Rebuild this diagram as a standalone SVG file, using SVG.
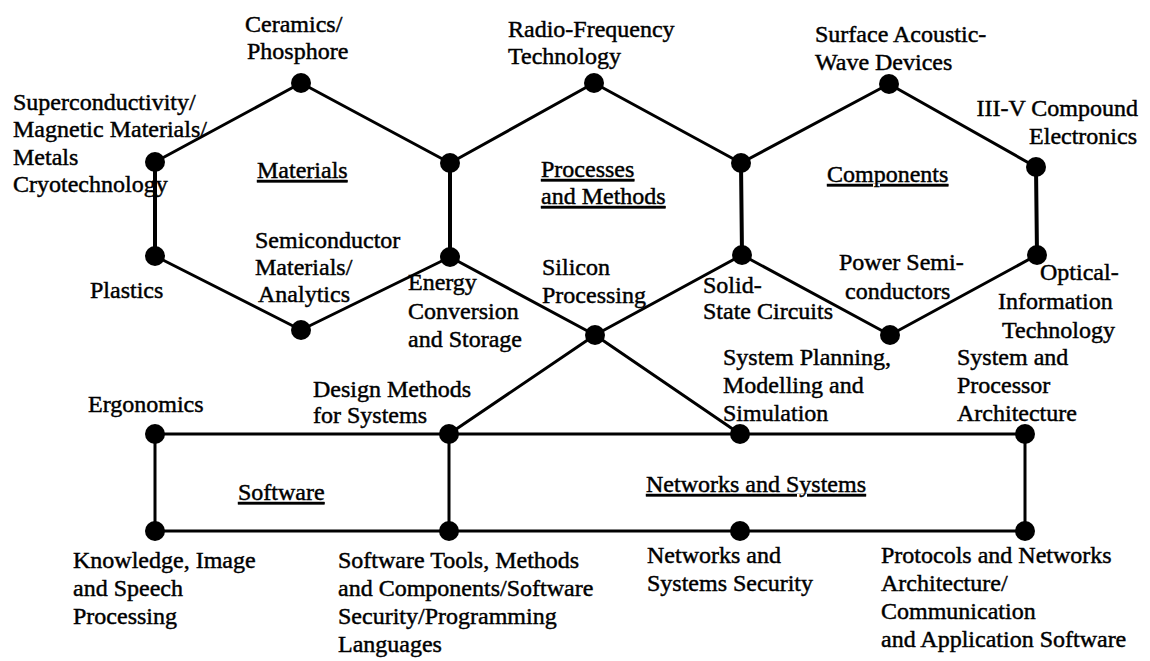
<svg xmlns="http://www.w3.org/2000/svg" width="1150" height="661" viewBox="0 0 1150 661">
<style>
text{font-family:"Liberation Serif","Times New Roman",serif;font-size:24px;fill:#000;stroke:#000;stroke-width:0.45}
.u{text-decoration:underline}
.e{text-anchor:end}
.c line,.c polyline{stroke:#000;stroke-width:3;fill:none;stroke-linecap:round;stroke-linejoin:round}
.c .v{stroke-width:4}
circle{fill:#000}
</style>
<rect width="1150" height="661" fill="#fff"/>
<g id="connectors" class="c">
  <polyline points="155,162 301,83 450,163 594,83 741,163 889,84 1036,167"/>
  <line class="v" x1="155" y1="162" x2="155" y2="256"/>
  <line class="v" x1="450" y1="163" x2="450" y2="257"/>
  <line class="v" x1="741" y1="163" x2="742" y2="255"/>
  <line class="v" x1="1036" y1="167" x2="1037" y2="255"/>
  <polyline points="155,256 301,330 450,257"/>
  <polyline points="450,257 595,335 740,434"/>
  <polyline points="742,255 595,335 449,434"/>
  <polyline points="742,255 890,335 1037,255"/>
  <polyline points="155,434 1025,434 1025,531 155,531 155,434"/>
  <line x1="449" y1="434" x2="449" y2="531"/>
</g>
<g id="regions">
  <text class="u" x="257" y="178">Materials</text>
  <text class="u" x="541" y="177">Processes</text>
  <text class="u" x="541" y="204">and Methods</text>
  <text class="u" x="827" y="182">Components</text>
  <text class="u" x="238" y="500">Software</text>
  <text class="u" x="646" y="492">Networks and Systems</text>
</g>
<g id="n-ceramics"><circle cx="301" cy="83" r="10"/><text x="245" y="32">Ceramics/</text><text x="247" y="59">Phosphore</text></g>
<g id="n-superconductivity"><circle cx="155" cy="162" r="10"/><text x="13" y="110">Superconductivity/</text><text x="13" y="137">Magnetic Materials/</text><text x="13" y="165">Metals</text><text x="13" y="192">Cryotechnology</text></g>
<g id="n-plastics"><circle cx="155" cy="256" r="10"/><text x="90" y="298">Plastics</text></g>
<g id="n-semiconductor"><circle cx="301" cy="330" r="10"/><text x="255" y="248">Semiconductor</text><text x="255" y="275">Materials/</text><text x="258" y="302">Analytics</text></g>
<g id="n-junction-1"><circle cx="450" cy="163" r="10"/></g>
<g id="n-energy"><circle cx="450" cy="257" r="10"/><text x="408" y="290">Energy</text><text x="408" y="319">Conversion</text><text x="408" y="347">and Storage</text></g>
<g id="n-radio"><circle cx="594" cy="83" r="10"/><text x="508" y="37">Radio-Frequency</text><text x="508" y="64">Technology</text></g>
<g id="n-silicon"><circle cx="595" cy="335" r="10"/><text x="542" y="275">Silicon</text><text x="542" y="303">Processing</text></g>
<g id="n-junction-2"><circle cx="741" cy="163" r="10"/></g>
<g id="n-solid-state"><circle cx="742" cy="255" r="10"/><text x="703" y="293">Solid-</text><text x="703" y="319">State Circuits</text></g>
<g id="n-saw"><circle cx="889" cy="84" r="10"/><text x="815" y="42">Surface Acoustic-</text><text x="815" y="70">Wave Devices</text></g>
<g id="n-iiiv"><circle cx="1036" cy="167" r="10"/><text class="e" x="1138" y="116">III-V Compound</text><text class="e" x="1137" y="144">Electronics</text></g>
<g id="n-power"><circle cx="890" cy="335" r="10"/><text x="839" y="270">Power Semi-</text><text x="845" y="299">conductors</text></g>
<g id="n-optical"><circle cx="1037" cy="255" r="10"/><text x="1040" y="280">Optical-</text><text x="998" y="309">Information</text><text x="1002" y="338">Technology</text></g>
<g id="n-ergonomics"><circle cx="155" cy="434" r="10"/><text x="88" y="412">Ergonomics</text></g>
<g id="n-design"><circle cx="449" cy="434" r="10"/><text x="313" y="397">Design Methods</text><text x="313" y="423">for Systems</text></g>
<g id="n-planning"><circle cx="740" cy="434" r="10"/><text x="723" y="365">System Planning,</text><text x="723" y="393">Modelling and</text><text x="723" y="421">Simulation</text></g>
<g id="n-processor"><circle cx="1025" cy="434" r="10"/><text x="957" y="365">System and</text><text x="957" y="393">Processor</text><text x="957" y="421">Architecture</text></g>
<g id="n-knowledge"><circle cx="155" cy="531" r="10"/><text x="73" y="568">Knowledge, Image</text><text x="73" y="596">and Speech</text><text x="73" y="624">Processing</text></g>
<g id="n-tools"><circle cx="449" cy="531" r="10"/><text x="338" y="568">Software Tools, Methods</text><text x="338" y="596">and Components/Software</text><text x="338" y="624">Security/Programming</text><text x="338" y="652">Languages</text></g>
<g id="n-security"><circle cx="740" cy="531" r="10"/><text x="647" y="563">Networks and</text><text x="647" y="591">Systems Security</text></g>
<g id="n-protocols"><circle cx="1025" cy="531" r="10"/><text x="881" y="563">Protocols and Networks</text><text x="881" y="591">Architecture/</text><text x="881" y="619">Communication</text><text x="881" y="647">and Application Software</text></g>
</svg>
